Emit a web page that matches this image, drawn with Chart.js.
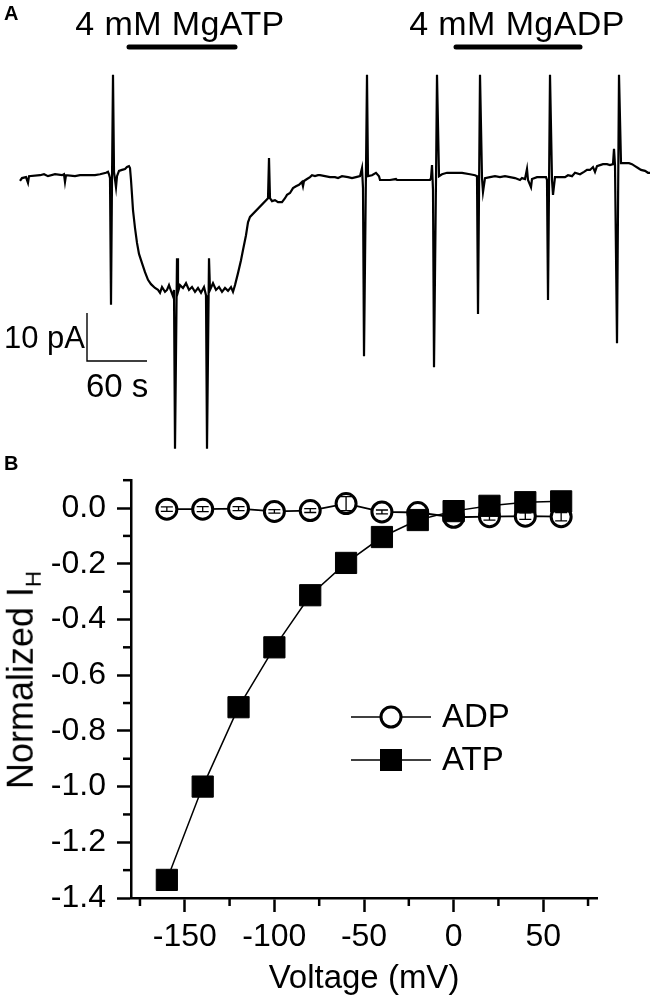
<!DOCTYPE html>
<html>
<head>
<meta charset="utf-8">
<script src="https://cdn.jsdelivr.net/npm/chart.js@4.4.1/dist/chart.umd.min.js"></script>
<style>
  body { margin: 0; background: #fff; }
  #page { position: relative; width: 653px; height: 999px; overflow: hidden; font-family: 'Liberation Sans', Arial, sans-serif; color: #000; }
  canvas { position: absolute; left: 0; }
  .lbl { position: absolute; line-height: 1; white-space: nowrap; }
</style>
</head>
<body>
<div id="page">
  <canvas id="trace" width="653" height="450" style="top:0"></canvas>
  <canvas id="iv" width="653" height="549" style="top:450px"></canvas>

  <div class="lbl" style="left:4px; top:3px; font-size:20px; font-weight:bold">A</div>
  <div class="lbl" style="left:30px; width:300px; text-align:center; top:6px; font-size:34px; letter-spacing:0.4px">4 mM MgATP</div>
  <div class="lbl" style="left:367px; width:300px; text-align:center; top:6px; font-size:34px; letter-spacing:0.4px">4 mM MgADP</div>
  <div class="lbl" style="left:4px; top:322px; font-size:31px">10 pA</div>
  <div class="lbl" style="left:86px; top:369px; font-size:33px">60 s</div>

  <div class="lbl" style="left:4px; top:453px; font-size:20px; font-weight:bold">B</div>
  <div class="lbl" style="left:24px; top:680px; font-size:36px; transform:translate(-50%,-50%) rotate(-90deg)">Normalized I<sub style="font-size:0.62em">H</sub></div>
  <div class="lbl" style="left:214px; width:300px; text-align:center; top:960px; font-size:33px">Voltage (mV)</div>
</div>

<script>
// --- DATI ---
// Panel A: traccia di corrente (tempo in s, corrente in pA)
const traceT = [
  0, 2, 6, 8, 9, 20, 24, 28, 35, 42, 44, 45, 46, 55, 60, 65, 75, 80, 86, 88,
  89, 90, 91, 92, 93, 94, 96, 97, 99, 102, 105, 107, 109, 110,
  111, 112, 113, 115, 117, 119, 122, 125, 128, 131, 135, 138, 140, 142, 145, 147, 149, 151, 153,
  154, 155, 157, 158, 160, 163, 166, 169, 172, 175, 178, 181, 184, 186,
  187, 189, 190, 193, 196, 199, 202, 205, 208, 211, 213,
  215, 218, 221, 223, 226, 228, 230, 248, 249, 250, 252, 255, 258, 262, 265, 267, 270, 273, 276, 279,
  282, 283, 284, 287, 290, 292, 295, 298, 300, 305, 310,
  315, 318, 322, 328, 332, 336, 340, 342, 343, 344, 347, 348, 352, 356, 359, 360, 370, 376, 377, 390, 400, 410,
  411, 412, 413, 414, 416, 417, 419, 422, 427, 435, 442, 450, 455, 457,
  458, 460, 462, 463, 465, 470, 475, 480, 485, 490, 495, 500, 502, 505, 507, 508, 511, 512, 517, 523, 526,
  527, 528, 530, 532, 533, 535, 540, 545, 548, 552, 555, 560, 564, 567, 570, 573, 575, 577, 580, 583, 587, 590, 593,
  594, 595, 597, 599, 601, 605, 609, 612, 615, 618, 621, 625, 628, 630
];
const traceI = [
  -37.7, -37.1, -36.9, -38.1, -36.7, -36.5, -36.3, -36.7, -36.3, -36.5, -36.3, -37.9, -36.5, -36.7, -36.5, -36.5, -36.5, -36.3, -36.0, -35.8,
  -36.3, -37.1, -63.5, -37.5, -15.6, -35.8, -39.0, -36.7, -35.6, -35.4, -35.2, -34.8, -34.6, -35.0,
  -37.5, -40.6, -43.8, -47.5, -50.6, -52.9, -54.8, -56.7, -58.3, -59.2, -60.0, -60.4, -61.0, -59.8, -60.8, -60.4, -59.4, -60.6, -61.7,
  -60.4, -93.5, -53.8, -60.8, -59.4, -60.0, -59.0, -60.4, -59.8, -60.8, -60.0, -61.0, -59.8, -61.5,
  -93.5, -53.8, -60.4, -59.0, -60.4, -59.8, -60.8, -60.0, -60.6, -59.8, -60.8,
  -59.4, -56.9, -54.2, -52.1, -49.0, -46.3, -45.2, -41.3, -32.9, -41.3, -41.9, -41.7, -42.1, -42.1, -41.3, -40.6, -40.2, -39.2, -38.8, -38.5,
  -37.9, -38.8, -37.7, -37.3, -36.9, -36.5, -36.7, -36.5, -36.5, -36.7, -36.9,
  -36.9, -37.1, -36.7, -36.9, -37.1, -36.9, -36.7, -35.0, -39.2, -74.2, -15.6, -36.7, -36.5, -36.0, -36.7, -37.5, -37.5, -37.3, -37.5, -37.5, -37.5, -37.5,
  -37.1, -34.4, -39.6, -76.5, -37.5, -15.6, -36.7, -36.3, -36.0, -36.0, -36.0, -36.3, -36.5, -36.7,
  -65.4, -15.6, -37.1, -40.0, -37.1, -36.9, -36.7, -36.9, -36.7, -36.9, -37.1, -37.5, -37.1, -37.3, -35.2, -37.5, -39.0, -37.3, -36.9, -36.9, -36.9,
  -37.5, -62.5, -15.6, -37.5, -40.6, -36.9, -36.9, -36.9, -36.5, -36.7, -36.0, -36.3, -35.8, -35.4, -35.4, -34.8, -35.8, -34.6, -34.4, -34.2, -34.2, -34.4, -34.2,
  -31.0, -34.4, -71.5, -15.6, -34.0, -34.0, -34.0, -34.2, -34.6, -35.0, -35.4, -35.6, -36.0, -36.0
];
// applicazioni dei farmaci (inizio, fine) in s
const atpApplication = [109, 215];
const adpApplication = [436, 560];
// barra di scala: 60 s, 10 pA
const scaleBarSeconds = 60;
const scaleBarPicoamps = 10;

// Panel B: curva I-V normalizzata
const voltage = [-160, -140, -120, -100, -80, -60, -40, -20, 0, 20, 40, 60];
const adpCurrent = [-0.004, -0.004, -0.002, -0.012, -0.009, 0.016, -0.014, -0.016, -0.033, -0.031, -0.029, -0.031];
const adpError = [0.008, 0.009, 0.007, 0.006, 0.007, 0.025, 0.007, 0.005, 0.012, 0.012, 0.012, 0.015];
const atpCurrent = [-1.335, -1.0, -0.715, -0.5, -0.313, -0.197, -0.104, -0.043, -0.011, 0.008, 0.021, 0.024];
const xMajorTicks = [-150, -100, -50, 0, 50];
const xMinorTicks = [-175, -125, -75, -25, 25, 75];
const yMajorTicks = [0, -0.2, -0.4, -0.6, -0.8, -1.0, -1.2, -1.4];
const yMinorTicks = [0.1, -0.1, -0.3, -0.5, -0.7, -0.9, -1.1, -1.3];

Chart.defaults.font.family = "'Liberation Sans', Arial, sans-serif";
Chart.defaults.color = '#000';

// --- PANEL A ---
const BAR_LEVEL = -9.8;       // livello delle barre dei farmaci (pA)
const SCALE_ORIGIN = { t: 67, i: -75.2 };

const toXY = (xs, ys) => xs.map((x, k) => ({ x: x, y: ys[k] }));

new Chart(document.getElementById('trace'), {
  type: 'line',
  data: {
    datasets: [
      { data: toXY(traceT, traceI), borderColor: '#000', borderWidth: 2.2, pointRadius: 0, tension: 0 },
      { data: toXY(atpApplication, [BAR_LEVEL, BAR_LEVEL]), borderColor: '#000', borderWidth: 5, borderCapStyle: 'round', pointRadius: 0 },
      { data: toXY(adpApplication, [BAR_LEVEL, BAR_LEVEL]), borderColor: '#000', borderWidth: 5, borderCapStyle: 'round', pointRadius: 0 },
      {
        data: [
          { x: SCALE_ORIGIN.t, y: SCALE_ORIGIN.i + scaleBarPicoamps },
          { x: SCALE_ORIGIN.t, y: SCALE_ORIGIN.i },
          { x: SCALE_ORIGIN.t + scaleBarSeconds, y: SCALE_ORIGIN.i }
        ],
        borderColor: '#000', borderWidth: 1.4, pointRadius: 0
      }
    ]
  },
  options: {
    responsive: false,
    animation: false,
    events: [],
    layout: { padding: 0 },
    plugins: { legend: { display: false }, tooltip: { enabled: false } },
    scales: {
      x: { type: 'linear', min: -20, max: 633, display: false },
      y: { type: 'linear', min: -93.75, max: 0, display: false }
    }
  }
});

// --- PANEL B ---
const minorTicksPlugin = {
  id: 'minorTicks',
  afterDraw(chart) {
    const { ctx, chartArea, scales } = chart;
    ctx.save();
    ctx.strokeStyle = '#000';
    ctx.lineWidth = 2.5;
    yMinorTicks.forEach(v => {
      const py = scales.y.getPixelForValue(v);
      ctx.beginPath(); ctx.moveTo(chartArea.left, py); ctx.lineTo(chartArea.left - 8, py); ctx.stroke();
    });
    xMinorTicks.forEach(v => {
      const px = scales.x.getPixelForValue(v);
      ctx.beginPath(); ctx.moveTo(px, chartArea.bottom); ctx.lineTo(px, chartArea.bottom + 8); ctx.stroke();
    });
    ctx.restore();
  }
};

const errorBarPlugin = {
  id: 'errorBars',
  afterDatasetsDraw(chart) {
    const { ctx, scales } = chart;
    ctx.save();
    ctx.strokeStyle = '#000';
    ctx.lineWidth = 1.3;
    voltage.forEach((v, k) => {
      const px = scales.x.getPixelForValue(v);
      const top = scales.y.getPixelForValue(adpCurrent[k] + adpError[k]);
      const bot = scales.y.getPixelForValue(adpCurrent[k] - adpError[k]);
      ctx.beginPath();
      ctx.moveTo(px, top); ctx.lineTo(px, bot);
      ctx.moveTo(px - 6, top); ctx.lineTo(px + 6, top);
      ctx.moveTo(px - 6, bot); ctx.lineTo(px + 6, bot);
      ctx.stroke();
    });
    ctx.restore();
  }
};

const legendPlugin = {
  id: 'ivLegend',
  afterDraw(chart) {
    const ctx = chart.ctx;
    const items = [
      { label: 'ADP', y: 267, marker: 'circle' },
      { label: 'ATP', y: 310, marker: 'square' }
    ];
    ctx.save();
    items.forEach(it => {
      ctx.strokeStyle = '#000';
      ctx.lineWidth = 1.5;
      ctx.beginPath(); ctx.moveTo(351, it.y); ctx.lineTo(431, it.y); ctx.stroke();
      if (it.marker === 'circle') {
        ctx.beginPath(); ctx.arc(391, it.y, 10, 0, Math.PI * 2);
        ctx.fillStyle = '#fff'; ctx.fill();
        ctx.lineWidth = 3; ctx.stroke();
      } else {
        ctx.fillStyle = '#000';
        ctx.fillRect(380, it.y - 11, 22, 22);
      }
      ctx.fillStyle = '#000';
      ctx.font = "33px 'Liberation Sans', Arial, sans-serif";
      ctx.textBaseline = 'middle';
      ctx.fillText(it.label, 442, it.y + 1);
    });
    ctx.restore();
  }
};

new Chart(document.getElementById('iv'), {
  type: 'line',
  data: {
    datasets: [
      {
        label: 'ATP',
        data: toXY(voltage, atpCurrent),
        borderColor: '#000', borderWidth: 1.5,
        pointStyle: 'rect', pointRadius: 15, pointBorderWidth: 1,
        pointBackgroundColor: '#000', pointBorderColor: '#000',
        tension: 0
      },
      {
        label: 'ADP',
        data: toXY(voltage, adpCurrent),
        borderColor: '#000', borderWidth: 1.8,
        pointStyle: 'circle', pointRadius: 10, pointBorderWidth: 3,
        pointBackgroundColor: '#fff', pointBorderColor: '#000',
        tension: 0
      }
    ]
  },
  options: {
    responsive: false,
    animation: false,
    events: [],
    clip: false,
    layout: { padding: { top: 21, right: 56, left: 0, bottom: 0 } },
    plugins: { legend: { display: false }, tooltip: { enabled: false } },
    scales: {
      x: {
        type: 'linear', min: -180, max: 80,
        afterBuildTicks: s => { s.ticks = xMajorTicks.map(v => ({ value: v })); },
        afterFit: s => { s.height = 101; },
        border: { display: true, width: 2.5, color: '#000' },
        grid: { drawOnChartArea: false, drawTicks: true, tickLength: 14, tickWidth: 2.5, tickColor: '#000' },
        ticks: { font: { size: 32 }, padding: 6, maxRotation: 0, callback: v => String(v) }
      },
      y: {
        type: 'linear', min: -1.4, max: 0.1,
        afterBuildTicks: s => { s.ticks = yMajorTicks.map(v => ({ value: v })); },
        afterFit: s => { s.width = 131; },
        border: { display: true, width: 2.5, color: '#000' },
        grid: { drawOnChartArea: false, drawTicks: true, tickLength: 14, tickWidth: 2.5, tickColor: '#000' },
        ticks: { font: { size: 32 }, padding: 11, callback: v => v.toFixed(1) }
      }
    }
  },
  plugins: [minorTicksPlugin, errorBarPlugin, legendPlugin]
});
</script>
</body>
</html>
